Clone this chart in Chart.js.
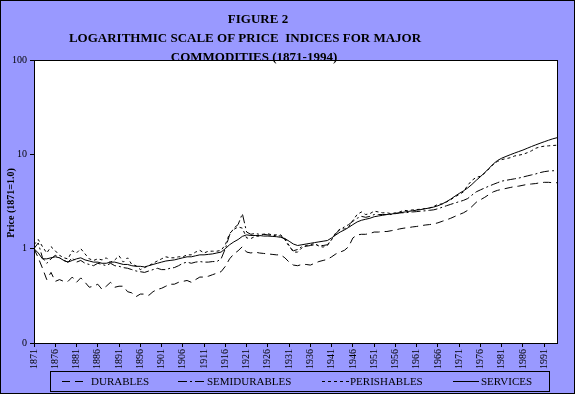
<!DOCTYPE html>
<html>
<head>
<meta charset="utf-8">
<script src="https://cdn.jsdelivr.net/npm/chart.js@4/dist/chart.umd.min.js"></script>
<style>
  html, body { margin: 0; padding: 0; background: #9999ff; }
  #wrap { width: 575px; height: 394px; }
</style>
</head>
<body>
<div id="wrap"><canvas id="priceChart" width="575" height="394"></canvas></div>
<script>
// years 1871..1994
var years = [];
for (var yr = 1871; yr <= 1994; yr++) years.push(yr);

var titleLines = ["FIGURE 2", "LOGARITHMIC SCALE OF PRICE  INDICES FOR MAJOR", "COMMODITIES (1871-1994)"];
var yAxisTitle = "Price (1871=1.0)";
var yTickValues = [0.1, 1, 10, 100];
var yTickLabels = ["0", "1", "10", "100"];
var xTickYears = [1871,1876,1881,1886,1891,1896,1901,1906,1911,1916,1921,1926,1931,1936,1941,1946,1951,1956,1961,1966,1971,1976,1981,1986,1991];

var durables = [
  1.00,0.80,0.62,0.47,0.56,0.45,0.47,0.45,0.45,0.50, // 1871-1880
  0.44,0.49,0.44,0.39,0.40,0.42,0.37,0.40,0.44,0.39, // 1881-1890
  0.40,0.40,0.35,0.34,0.31,0.33,0.33,0.32,0.35,0.37, // 1891-1900
  0.38,0.40,0.42,0.42,0.44,0.45,0.46,0.44,0.47,0.50, // 1901-1910
  0.50,0.51,0.53,0.55,0.57,0.65,0.78,0.88,0.95,1.05, // 1911-1920
  0.92,0.90,0.92,0.90,0.89,0.88,0.87,0.86,0.86,0.80, // 1921-1930
  0.72,0.67,0.66,0.68,0.68,0.67,0.70,0.73,0.75,0.77, // 1931-1940
  0.82,0.88,0.92,0.96,1.05,1.30,1.40,1.42,1.42,1.45, // 1941-1950
  1.50,1.50,1.52,1.52,1.55,1.58,1.62,1.65,1.67,1.70, // 1951-1960
  1.72,1.75,1.78,1.80,1.83,1.88,1.95,2.02,2.10,2.20, // 1961-1970
  2.30,2.40,2.55,2.80,3.10,3.30,3.50,3.75,4.00,4.15, // 1971-1980
  4.25,4.35,4.45,4.55,4.60,4.70,4.80,4.85,4.90,5.00, // 1981-1990
  5.05,5.05,5.00,5.00                                // 1991-1994
];
var semidurables = [
  1.00,1.15,0.80,0.70,0.78,0.85,0.80,0.75,0.72,0.80,
  0.72,0.75,0.70,0.68,0.66,0.70,0.68,0.66,0.70,0.66,
  0.65,0.63,0.62,0.60,0.58,0.57,0.56,0.58,0.60,0.62,
  0.60,0.60,0.62,0.63,0.66,0.70,0.72,0.70,0.72,0.73,
  0.72,0.72,0.73,0.73,0.78,1.00,1.40,1.65,1.80,2.35,
  1.50,1.42,1.45,1.42,1.42,1.40,1.38,1.38,1.36,1.25,
  1.05,0.95,0.98,1.05,1.06,1.08,1.10,1.08,1.08,1.10,
  1.25,1.45,1.60,1.70,1.80,1.95,2.10,2.20,2.15,2.20,
  2.30,2.30,2.30,2.30,2.30,2.35,2.40,2.40,2.42,2.45,
  2.47,2.50,2.52,2.55,2.58,2.65,2.75,2.85,2.95,3.05,
  3.15,3.25,3.40,3.70,4.00,4.20,4.40,4.60,4.80,5.00,
  5.20,5.30,5.40,5.50,5.60,5.75,5.90,6.05,6.20,6.40,
  6.55,6.65,6.70,6.70
];
var perishables = [
  1.10,1.25,1.05,0.90,1.05,0.95,0.85,0.80,0.78,0.95,
  0.90,1.00,0.88,0.78,0.75,0.78,0.76,0.80,0.72,0.76,
  0.84,0.72,0.80,0.68,0.66,0.60,0.63,0.66,0.70,0.74,
  0.78,0.82,0.80,0.80,0.82,0.82,0.86,0.86,0.92,0.96,
  0.90,0.94,0.94,0.94,0.96,1.10,1.45,1.60,1.70,1.65,
  1.30,1.28,1.35,1.36,1.42,1.44,1.40,1.40,1.40,1.28,
  1.08,0.92,0.92,1.02,1.08,1.10,1.14,1.06,1.04,1.08,
  1.25,1.48,1.62,1.62,1.70,2.00,2.30,2.45,2.30,2.35,
  2.50,2.45,2.40,2.40,2.35,2.40,2.45,2.55,2.52,2.58,
  2.60,2.62,2.66,2.70,2.80,2.95,2.98,3.12,3.30,3.55,
  3.75,4.00,4.70,5.30,5.70,5.85,6.30,7.00,7.80,8.40,
  8.80,9.00,9.20,9.60,9.80,10.00,10.40,10.90,11.60,12.00,
  12.20,12.30,12.40,12.50
];
var services = [
  1.00,0.90,0.78,0.78,0.80,0.82,0.80,0.75,0.72,0.75,
  0.78,0.80,0.76,0.74,0.72,0.72,0.70,0.70,0.72,0.72,
  0.70,0.68,0.68,0.66,0.65,0.65,0.64,0.66,0.68,0.70,
  0.72,0.74,0.75,0.76,0.78,0.80,0.82,0.82,0.84,0.86,
  0.86,0.87,0.88,0.90,0.92,1.00,1.10,1.18,1.25,1.35,
  1.40,1.38,1.38,1.38,1.36,1.36,1.35,1.34,1.32,1.28,
  1.20,1.12,1.08,1.10,1.12,1.14,1.16,1.18,1.20,1.22,
  1.30,1.40,1.50,1.58,1.68,1.80,1.92,2.00,2.05,2.10,
  2.18,2.22,2.26,2.30,2.33,2.36,2.40,2.44,2.48,2.52,
  2.56,2.60,2.65,2.70,2.76,2.85,2.98,3.15,3.35,3.60,
  3.85,4.10,4.40,4.80,5.30,5.80,6.40,7.10,7.90,8.60,
  9.10,9.50,9.90,10.30,10.70,11.10,11.60,12.10,12.60,13.10,
  13.60,14.10,14.60,15.00
];

var BG = "#9999ff";
var SERIF = "'Liberation Serif', 'Times New Roman', serif";

// background, white plot area and frame
var framePlugin = {
  id: "frame",
  beforeDraw: function(chart) {
    var c = chart.ctx, a = chart.chartArea;
    c.save();
    c.fillStyle = BG;
    c.fillRect(0, 0, chart.width, chart.height);
    c.fillStyle = "#fff";
    c.fillRect(a.left, a.top, a.right - a.left, a.bottom - a.top);
    c.restore();
  },
  afterDraw: function(chart) {
    var c = chart.ctx, a = chart.chartArea;
    c.save();
    c.strokeStyle = "#000";
    c.lineWidth = 1;
    c.strokeRect(Math.round(a.left) + 0.5, Math.round(a.top) + 0.5, Math.round(a.right - a.left), Math.round(a.bottom - a.top));
    c.strokeRect(0.5, 0.5, chart.width - 1, chart.height - 1);

    // title, drawn over the top of the plot like the original
    c.fillStyle = "#000";
    c.textAlign = "center";
    c.textBaseline = "alphabetic";
    c.font = "bold 13px " + SERIF;
    c.fillText(titleLines[0], 258, 23);
    c.fillText(titleLines[1], 245, 42);
    c.fillText(titleLines[2], 254, 61);

    // y axis title
    c.save();
    c.translate(11, 203);
    c.rotate(-Math.PI / 2);
    c.font = "bold 10px " + SERIF;
    c.textBaseline = "middle";
    c.fillText(yAxisTitle, 0, 0);
    c.restore();

    // legend box
    c.strokeRect(50.5, 371.5, 499, 20);
    var items = [
      {x: 62, w: 22, t: 91},
      {x: 178, w: 27, t: 207},
      {x: 322, w: 27, t: 350},
      {x: 453, w: 26, t: 481}
    ];
    c.font = "11px " + SERIF;
    c.textAlign = "left";
    c.textBaseline = "middle";
    chart.data.datasets.forEach(function(ds, i) {
      var it = items[i];
      c.beginPath();
      c.setLineDash(ds.borderDash || []);
      c.moveTo(it.x, 381.5);
      c.lineTo(it.x + it.w, 381.5);
      c.stroke();
      c.setLineDash([]);
      c.fillText(ds.label, it.t, 382);
    });
    c.restore();
  }
};

function series(label, data, dash) {
  return {
    label: label,
    data: data,
    borderColor: "#000",
    borderWidth: 1,
    borderDash: dash,
    pointRadius: 0,
    tension: 0,
    fill: false
  };
}

var priceChart = new Chart(document.getElementById("priceChart"), {
  type: "line",
  data: {
    labels: years,
    datasets: [
      series("DURABLES", durables, [8, 5]),
      series("SEMIDURABLES", semidurables, [9, 3, 2, 3]),
      series("PERISHABLES", perishables, [3, 3]),
      series("SERVICES", services, [])
    ]
  },
  options: {
    responsive: false,
    animation: false,
    layout: { padding: { top: 60, right: 18, left: 0, bottom: 0 } },
    plugins: {
      legend: { display: false },
      title: { display: false },
      tooltip: { enabled: false }
    },
    scales: {
      x: {
        type: "linear",
        min: 1871,
        max: 1994,
        afterBuildTicks: function(s) {
          s.ticks = xTickYears.map(function(v) { return {value: v}; });
        },
        afterFit: function(s) { s.height = 51; },
        grid: { drawOnChartArea: false, color: "#000", tickLength: 4 },
        border: { display: true, color: "#000" },
        ticks: {
          autoSkip: false,
          minRotation: 90,
          maxRotation: 90,
          padding: 2,
          color: "#000",
          font: { family: SERIF, size: 10 },
          callback: function(v) { return String(v); }
        }
      },
      y: {
        type: "logarithmic",
        min: 0.1,
        max: 100,
        afterBuildTicks: function(s) {
          s.ticks = yTickValues.map(function(v) { return {value: v}; });
        },
        afterFit: function(s) { s.width = 34; },
        grid: { drawOnChartArea: false, color: "#000", tickLength: 4 },
        border: { display: true, color: "#000" },
        ticks: {
          padding: 3,
          color: "#000",
          font: { family: SERIF, size: 10 },
          callback: function(v, i) { return yTickLabels[i]; }
        }
      }
    }
  },
  plugins: [framePlugin]
});
</script>
</body>
</html>
